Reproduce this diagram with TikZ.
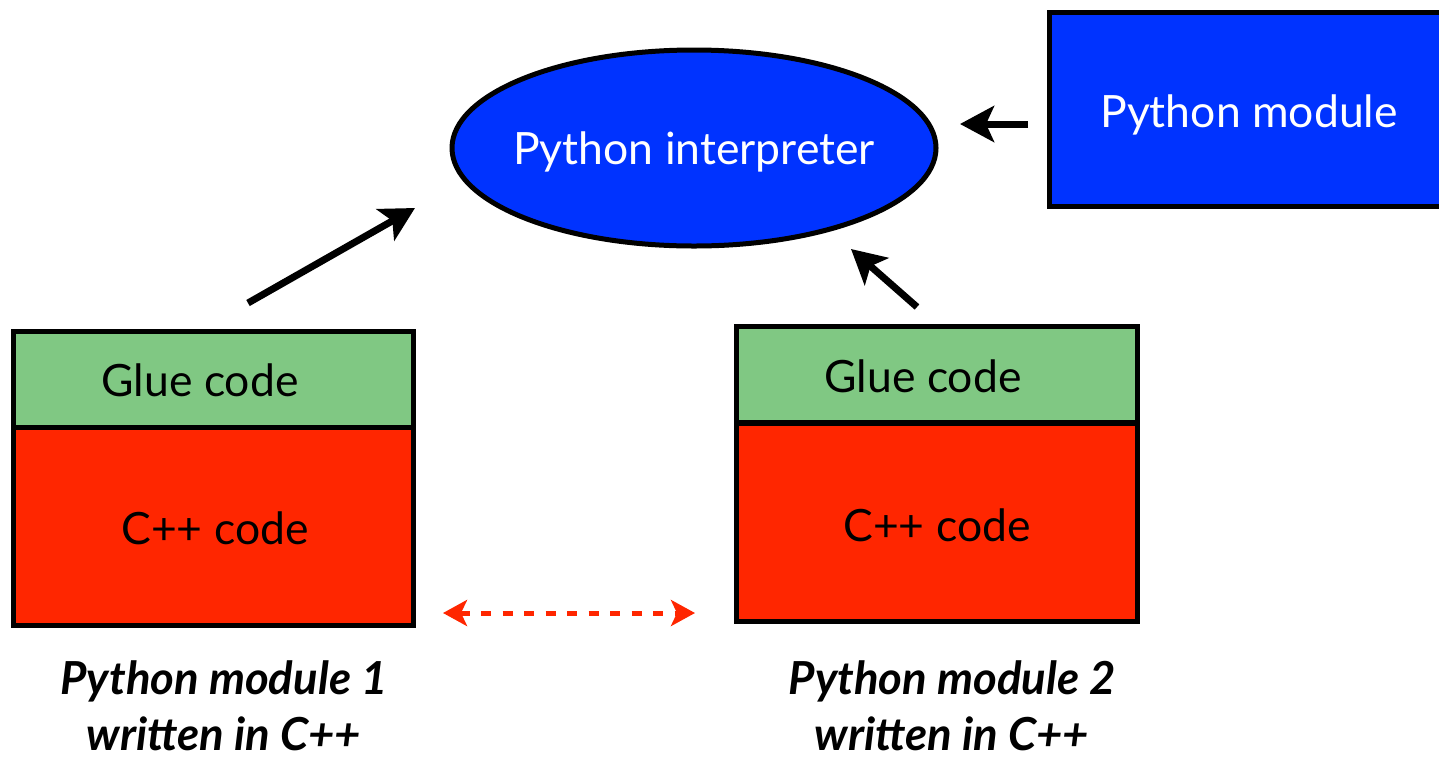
\documentclass[tikz,border=0pt]{standalone}
\usepackage{fontspec}
\setmainfont{Lato}
\usetikzlibrary{shapes.geometric,arrows.meta}
\definecolor{pyblue}{RGB}{0,51,255}
\definecolor{gluegreen}{RGB}{128,200,131}
\definecolor{cppred}{RGB}{255,38,0}
\tikzset{
  x=1pt, y=-1pt,
  txt/.style={font=\fontsize{44.5}{50}\selectfont},
  boxpart/.style={draw=black, line width=5pt, inner sep=0pt},
  callarrow/.style={draw=black, line width=7pt, -{Stealth[length=34pt,width=36pt,inset=8pt]}},
  linkarrow/.style={draw=cppred, line width=5pt, dash pattern=on 10pt off 11.5pt,
    {Stealth[length=24pt,width=26pt,inset=6pt]}-{Stealth[length=24pt,width=26pt,inset=6pt]}},
  caption/.style={font=\fontsize{45.5}{52}\selectfont\bfseries\itshape, anchor=base}
}
\begin{document}
\begin{tikzpicture}
\useasboundingbox (0,0) rectangle (1439,761);

% interpreter
\node[ellipse, draw=black, line width=5pt, fill=pyblue, minimum width=484pt, minimum height=196pt,
      inner sep=0pt] (interp) at (694,148) {};
\node[text=white, txt, anchor=base] (interpT) at (694,164) {Python interpreter};

% plain Python module (runs past the right edge)
\begin{scope}
\clip (0,0) rectangle (1439,761);
\draw[line width=5pt, fill=pyblue] (1049,12) rectangle (1460,206);
\end{scope}
\node[text=white, txt, anchor=base] (pymod) at (1249,127) {Python module};

% module 1
\node[boxpart, fill=gluegreen, minimum width=400pt, minimum height=96pt] (glueA) at (213,379) {};
\node[txt, anchor=base] (glueAT) at (200,396) {Glue code};
\node[boxpart, fill=cppred, minimum width=400pt, minimum height=198pt] (cppA) at (213,526) {};
\node[txt, anchor=base] (cppAT) at (215,544) {C++ code};

% module 2
\node[boxpart, fill=gluegreen, minimum width=401pt, minimum height=96pt] (glueB) at (936.5,374.5) {};
\node[txt, anchor=base] (glueBT) at (923,392) {Glue code};
\node[boxpart, fill=cppred, minimum width=401pt, minimum height=198pt] (cppB) at (936.5,522) {};
\node[txt, anchor=base] (cppBT) at (937,541) {C++ code};

% captions
\node[caption] (capA1) at (224,694) {Python module 1};
\node[caption] (capA2) at (224,750) {written in C++};
\node[caption] (capB1) at (952,694) {Python module 2};
\node[caption] (capB2) at (952,750) {written in C++};

% connectors
\coordinate (aS) at (248,303);
\coordinate (aE) at (415,208);
\coordinate (bS) at (917,307);
\coordinate (bE) at (851,249);
\coordinate (cS) at (1028,124);
\coordinate (cE) at (960,124);
\coordinate (dS) at (443,613);
\coordinate (dE) at (695,613);
\draw[callarrow] (aS) -- (aE);
\draw[callarrow] (bS) -- (bE);
\draw[callarrow] (cS) -- (cE);
\draw[linkarrow] (dS) -- (dE);
\end{tikzpicture}
\end{document}
